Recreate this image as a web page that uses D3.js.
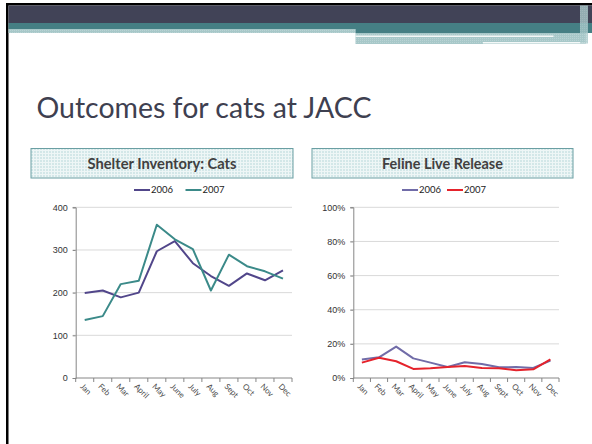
<!DOCTYPE html>
<html>
<head>
<meta charset="utf-8">
<script src="https://cdn.jsdelivr.net/npm/d3@7"></script>
<style>
  body { margin: 0; background: #fff; }
  svg { display: block; font-family: Lato, "Open Sans", sans-serif; }
</style>
</head>
<body>
<div id="chart"></div>
<script>
var months = ["Jan", "Feb", "Mar", "April", "May", "June", "July", "Aug", "Sept", "Oct", "Nov", "Dec"];
var seriesNames = ["2006", "2007"];

// Shelter Inventory: Cats
var inventory2006 = [199, 205, 189, 200, 297, 321, 269, 239, 216, 245, 229, 252];
var inventory2007 = [136, 145, 220, 228, 359, 325, 302, 205, 289, 262, 250, 233];
var inventoryTicks = [0, 100, 200, 300, 400];

// Feline Live Release
var release2006 = [0.109, 0.121, 0.184, 0.115, 0.090, 0.064, 0.092, 0.082, 0.063, 0.064, 0.059, 0.102];
var release2007 = [0.090, 0.119, 0.098, 0.053, 0.057, 0.064, 0.070, 0.059, 0.057, 0.045, 0.051, 0.109];
var releaseTicks = [0, 0.2, 0.4, 0.6, 0.8, 1];

var W = 592, H = 444;

var svg = d3.select("#chart").append("svg")
    .attr("width", W).attr("height", H);

var defs = svg.append("defs");

// checkered fill used in the chart title boxes
var pat = defs.append("pattern")
    .attr("id", "check").attr("width", 3).attr("height", 3)
    .attr("patternUnits", "userSpaceOnUse");
pat.append("rect").attr("width", 3).attr("height", 3).attr("fill", "#d3e7e8");
pat.append("rect").attr("width", 3).attr("height", 1).attr("fill", "#eef6f6");
pat.append("rect").attr("width", 1).attr("height", 3).attr("fill", "#eef6f6");

var pat2 = defs.append("pattern")
    .attr("id", "strip").attr("width", 2).attr("height", 2)
    .attr("patternUnits", "userSpaceOnUse");
pat2.append("rect").attr("width", 2).attr("height", 2).attr("fill", "#a7c8c9");
pat2.append("rect").attr("width", 1).attr("height", 1).attr("fill", "#b9d3d4");

// slide header bands
svg.append("rect").attr("x", 6).attr("y", 3).attr("width", W - 6).attr("height", 2.5).attr("fill", "#000");
svg.append("rect").attr("x", 6).attr("y", 3).attr("width", 2.5).attr("height", H).attr("fill", "#000");
svg.append("rect").attr("x", 8.5).attr("y", 5.5).attr("width", W - 8.5).attr("height", 17.5).attr("fill", "#414357");
svg.append("rect").attr("x", 8.5).attr("y", 23).attr("width", W - 8.5).attr("height", 6).attr("fill", "#457f84");
svg.append("rect").attr("x", 8.5).attr("y", 29).attr("width", 347).attr("height", 4).attr("fill", "url(#strip)");
svg.append("rect").attr("x", 355.5).attr("y", 29).attr("width", W - 355.5).attr("height", 4).attr("fill", "#457f84");
svg.append("rect").attr("x", 355.5).attr("y", 33).attr("width", 230).attr("height", 11).attr("fill", "url(#strip)");
svg.append("rect").attr("x", 355.5).attr("y", 35.5).attr("width", 198).attr("height", 1.5).attr("fill", "#f4f8f8");
svg.append("rect").attr("x", 483).attr("y", 42).attr("width", 102).attr("height", 1.5).attr("fill", "#f4f8f8");
svg.append("rect").attr("x", 580).attr("y", 5.5).attr("width", 8).attr("height", 38).attr("fill", "url(#strip)").attr("opacity", 0.8);

// fit a text node to a target width by scaling its font size
function fitWidth(sel, target) {
  var fs = parseFloat(sel.attr("font-size"));
  var w = sel.node().getComputedTextLength();
  sel.attr("font-size", fs * target / w);
}

var title = svg.append("text")
    .attr("x", 36.5).attr("y", 118)
    .attr("font-size", 30)
    .attr("fill", "#3e4050")
    .text("Outcomes for cats at JACC");
fitWidth(title, 335);

function drawChart(cfg) {
  var g = svg.append("g");

  // title box
  g.append("rect")
      .attr("x", cfg.box[0]).attr("y", 148.5)
      .attr("width", cfg.box[1] - cfg.box[0]).attr("height", 29.5)
      .attr("fill", "url(#check)")
      .attr("stroke", "#6a9fa3").attr("stroke-width", 1);

  var t = g.append("text")
      .attr("x", (cfg.box[0] + cfg.box[1]) / 2).attr("y", 168.5)
      .attr("text-anchor", "middle")
      .attr("font-size", 14).attr("font-weight", "bold")
      .attr("fill", "#404040")
      .text(cfg.title);
  fitWidth(t, cfg.titleWidth);

  // legend
  var leg = g.selectAll(".leg").data(cfg.series).enter().append("g")
      .attr("class", "leg")
      .attr("transform", function (d, i) { return "translate(" + cfg.legendX[i] + ",190)"; });
  leg.append("line")
      .attr("x1", 0).attr("x2", 16)
      .attr("stroke", function (d) { return d.color; })
      .attr("stroke-width", 2);
  leg.append("text")
      .attr("x", 17).attr("dy", "0.35em")
      .attr("font-size", 9.5).attr("fill", "#222")
      .text(function (d) { return d.name; });

  var x = d3.scaleBand().domain(months).range(cfg.xr);
  var y = d3.scaleLinear().domain([cfg.ticks[0], cfg.ticks[cfg.ticks.length - 1]]).range([378, 207.3]);

  // gridlines
  g.selectAll(".grid").data(cfg.ticks.slice(1)).enter().append("line")
      .attr("x1", cfg.xr[0] - 3).attr("x2", cfg.xr[1])
      .attr("y1", function (d) { return y(d); }).attr("y2", function (d) { return y(d); })
      .attr("stroke", "#d9d9d9").attr("stroke-width", 1);

  // y axis
  var yAxis = g.append("g")
      .attr("transform", "translate(" + cfg.xr[0] + ",0)")
      .call(d3.axisLeft(y).tickValues(cfg.ticks).tickFormat(cfg.fmt).tickSize(3).tickPadding(5));
  yAxis.select(".domain").attr("stroke", "#868686");
  yAxis.selectAll(".tick line").attr("stroke", "#868686");
  yAxis.selectAll("text").attr("font-size", 9).attr("fill", "#333").attr("font-family", null);

  // x axis with ticks between categories
  var bounds = months.map(function (m) { return x(m); }).concat([cfg.xr[1]]);
  g.append("line")
      .attr("x1", cfg.xr[0]).attr("x2", cfg.xr[1])
      .attr("y1", 378).attr("y2", 378)
      .attr("stroke", "#868686");
  g.selectAll(".xt").data(bounds).enter().append("line")
      .attr("x1", function (d) { return d; }).attr("x2", function (d) { return d; })
      .attr("y1", 378).attr("y2", 382)
      .attr("stroke", "#868686");
  g.selectAll(".ml").data(months).enter().append("text")
      .attr("transform", function (d) {
        return "translate(" + (x(d) + x.bandwidth() / 2 - 3) + ",385) rotate(45)";
      })
      .attr("dy", "0.35em")
      .attr("font-size", 8).attr("fill", "#4a4a4a")
      .text(function (d) { return d; });

  var line = d3.line()
      .x(function (d, i) { return x(months[i]) + x.bandwidth() / 2; })
      .y(function (d) { return y(d); });

  g.selectAll(".series").data(cfg.series).enter().append("path")
      .attr("fill", "none")
      .attr("stroke", function (d) { return d.color; })
      .attr("stroke-width", 2)
      .attr("stroke-linejoin", "round")
      .attr("d", function (d) { return line(d.values); });
}

drawChart({
  title: "Shelter Inventory: Cats",
  titleWidth: 149,
  box: [31, 293],
  legendX: [134, 185.5],
  xr: [75.7, 292],
  ticks: inventoryTicks,
  fmt: d3.format("d"),
  series: [
    { name: seriesNames[0], color: "#51468a", values: inventory2006 },
    { name: seriesNames[1], color: "#3b8a89", values: inventory2007 }
  ]
});

drawChart({
  title: "Feline Live Release",
  titleWidth: 121,
  box: [312, 573],
  legendX: [402, 447],
  xr: [353.3, 559],
  ticks: releaseTicks,
  fmt: d3.format(".0%"),
  series: [
    { name: seriesNames[0], color: "#716ca8", values: release2006 },
    { name: seriesNames[1], color: "#e5232c", values: release2007 }
  ]
});
</script>
</body>
</html>
